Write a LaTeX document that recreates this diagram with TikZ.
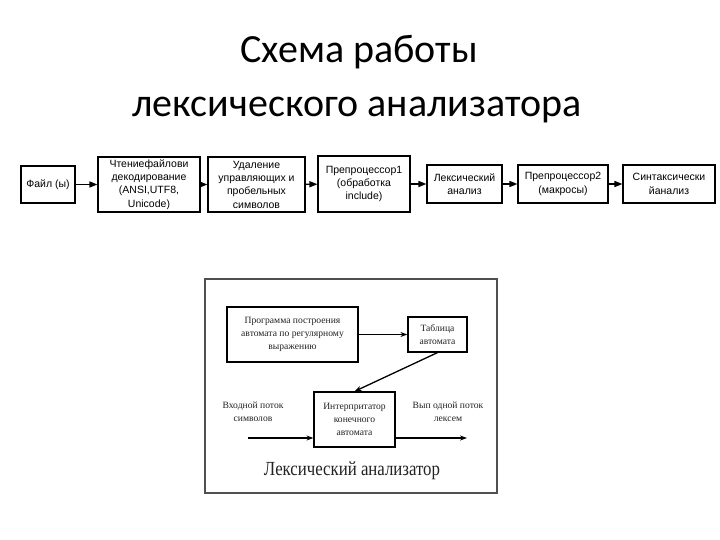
\documentclass[tikz,border=0pt]{standalone}
\usepackage{fontspec}
\setmainfont{Liberation Sans}
\newfontfamily\titlefont{Carlito}
\newfontfamily\lexfont{Liberation Serif}
\usetikzlibrary{arrows.meta,positioning}
\definecolor{frameGray}{HTML}{505050}
\definecolor{inkGray}{HTML}{222222}

\begin{document}
\begin{tikzpicture}[x=1pt, y=-1pt,
  heading/.style={font=\titlefont\fontsize{40}{48}\selectfont, anchor=base, inner sep=0pt},
  stage/.style={rectangle, draw=black, line width=1.1pt, fill=white, align=center, inner sep=0pt, font=\fontsize{10.5}{13.3}\selectfont},
  part/.style={rectangle, draw=black, line width=1.2pt, fill=white, align=center, inner sep=0pt, text=inkGray, font=\lexfont\fontsize{9.6}{13}\selectfont},
  note/.style={align=center, inner sep=0pt, text=inkGray, font=\lexfont\fontsize{9.6}{13}\selectfont},
  flow/.style={-{Triangle[length=8pt, width=6pt]}, line width=1.3pt},
  lexarrow/.style={-{Stealth[length=7pt, width=5pt]}, line width=1.3pt}
]
\useasboundingbox (0,0) rectangle (720,540);

% title
\node[heading] (title1) at (359,63) {Схема работы};
\node[heading] (title2) at (357,117) {лексического анализатора};

% top row
\node[stage, minimum width=54pt, minimum height=37pt] (file) at (48,184.5) {Файл (ы)};
\node[stage, minimum width=102pt, minimum height=55pt] (read) at (149,184.5) {Чтениефайлови\\декодирование\\(ANSI,UTF8,\\Unicode)};
\node[stage, minimum width=97pt, minimum height=55pt] (strip) at (256.5,184.5) {Удаление\\управляющих и\\пробельных\\символов};
\node[stage, minimum width=92pt, minimum height=56pt] (prepone) at (364,184) {Препроцессор1\\(обработка\\include)};
\node[stage, minimum width=75pt, minimum height=38pt] (lexan) at (464.5,184) {Лексический\\анализ};
\node[stage, minimum width=90pt, minimum height=38pt] (preptwo) at (563,184) {Препроцессор2\\(макросы)};
\node[stage, minimum width=92pt, minimum height=38pt] (synan) at (669,184) {Синтаксически\\йанализ};
\draw[flow] (file) -- (read);
\draw[flow] (read) -- (strip);
\draw[flow] (strip) -- (prepone);
\draw[flow] (prepone) -- (lexan);
\draw[flow] (lexan) -- (preptwo);
\draw[flow] (preptwo) -- (synan);

% lexer picture
\node[rectangle, draw=frameGray, line width=1.5pt, minimum width=292pt, minimum height=214pt] (panel) at (351,386) {};
\node[part, minimum width=131pt, minimum height=55pt] (builder) at (292.5,334.5) {Программа построения\\автомата по регулярному\\выражению};
\node[part, minimum width=59pt, minimum height=35pt] (table) at (437.5,334.5) {Таблица\\автомата};
\node[part, minimum width=81pt, minimum height=55pt] (interp) at (354.5,419.5) {Интерпритатор\\конечного\\автомата};
\node[note] (inlabel) at (253,412) {Входной поток\\символов};
\node[note] (outlabel) at (448,412) {Вып одной поток\\лексем};
\node[text=inkGray, font=\lexfont\fontsize{20}{22}\selectfont, anchor=base, inner sep=0pt] (caption) at (352,475) {\scalebox{0.84}[1]{Лексический анализатор}};
\coordinate (instream) at (248,438);
\coordinate (outstream) at (467,438);
\draw[lexarrow] (builder) -- (table);
\draw[lexarrow] (table.south) -- (interp.north);
\draw[lexarrow] (instream) -- (instream -| interp.west);
\draw[lexarrow] (instream -| interp.east) -- (outstream);
\end{tikzpicture}
\end{document}
